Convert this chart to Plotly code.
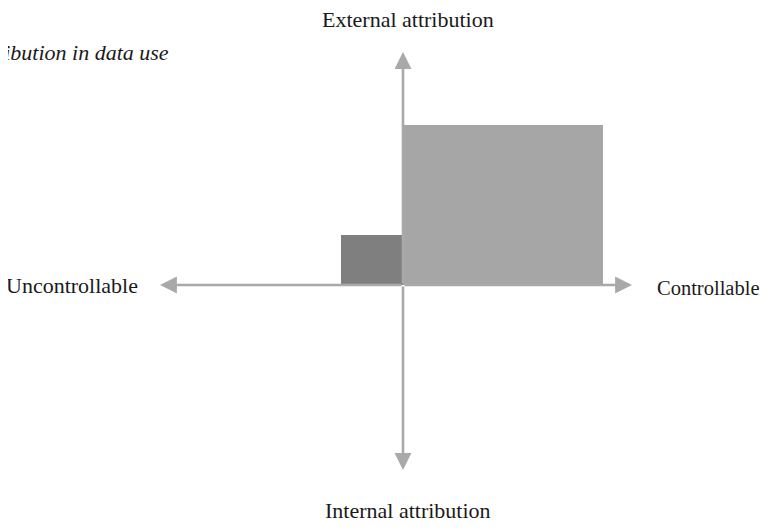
import plotly.graph_objects as go

# Quadrant data (units: arbitrary scale, origin = axis crossing)
rect_names = ["Uncontrollable / external", "Controllable / external"]
rect_x0 = [-3.1, 0.0]
rect_x1 = [0.0, 10.0]
rect_y0 = [0.0, 0.0]
rect_y1 = [2.5, 8.0]
rect_colors = ["#7f7f7f", "#a6a6a6"]

# Axis arrow tips
axis_left = -12.15
axis_right = 11.45
axis_top = 11.65
axis_bottom = -9.25

axis_labels = {
    "top": "External attribution",
    "bottom": "Internal attribution",
    "left": "Uncontrollable",
    "right": "Controllable",
}
title_text = "Attribution in data use"

FONT = "Liberation Serif, Times New Roman, serif"
TXT = "#1a1a1a"
ARROW = "#a9a9a9"
FS = 22

fig = go.Figure()
for name, a, b, c, d, col in zip(rect_names, rect_x0, rect_x1, rect_y0, rect_y1, rect_colors):
    fig.add_trace(go.Scatter(
        x=[a, b, b, a, a], y=[c, c, d, d, c], mode="lines", fill="toself",
        fillcolor=col, line=dict(width=0, color=col), name=name,
        hoverinfo="name", showlegend=False))

def arrow(x, y):
    fig.add_annotation(x=x, y=y, ax=0, ay=0, xref="x", yref="y", axref="x", ayref="y",
                       text="", showarrow=True, arrowhead=2, arrowsize=1.3,
                       arrowwidth=2.6, arrowcolor=ARROW)

arrow(axis_left, 0)
arrow(axis_right, 0)
arrow(0, axis_top)
arrow(0, axis_bottom)

def label(x, y, text, xanchor, size=FS):
    fig.add_annotation(x=x, y=y, xref="x", yref="y", text=text,
                       showarrow=False, xanchor=xanchor, yanchor="middle",
                       font=dict(family=FONT, size=size, color=TXT))

label(0.25, 13.3, axis_labels["top"], "center")
label(0.25, -11.25, axis_labels["bottom"], "center")
label(-13.15, 0.0, axis_labels["left"], "right")
label(12.6, -0.15, axis_labels["right"], "left", size=20.5)

fig.add_annotation(x=163 / 771, y=1 - 45 / 530, xref="paper", yref="paper",
                   text=title_text,
                   showarrow=False, xanchor="right", yanchor="middle",
                   font=dict(family=FONT, size=FS, color=TXT, style="italic"))

fig.update_layout(
    width=771, height=530,
    margin=dict(l=0, r=0, t=0, b=0),
    paper_bgcolor="white", plot_bgcolor="white",
    xaxis=dict(range=[-19.75, 18.8], visible=False, fixedrange=True),
    yaxis=dict(range=[-12.65, 13.85], visible=False, fixedrange=True),
)
fig.write_html("out.html")
